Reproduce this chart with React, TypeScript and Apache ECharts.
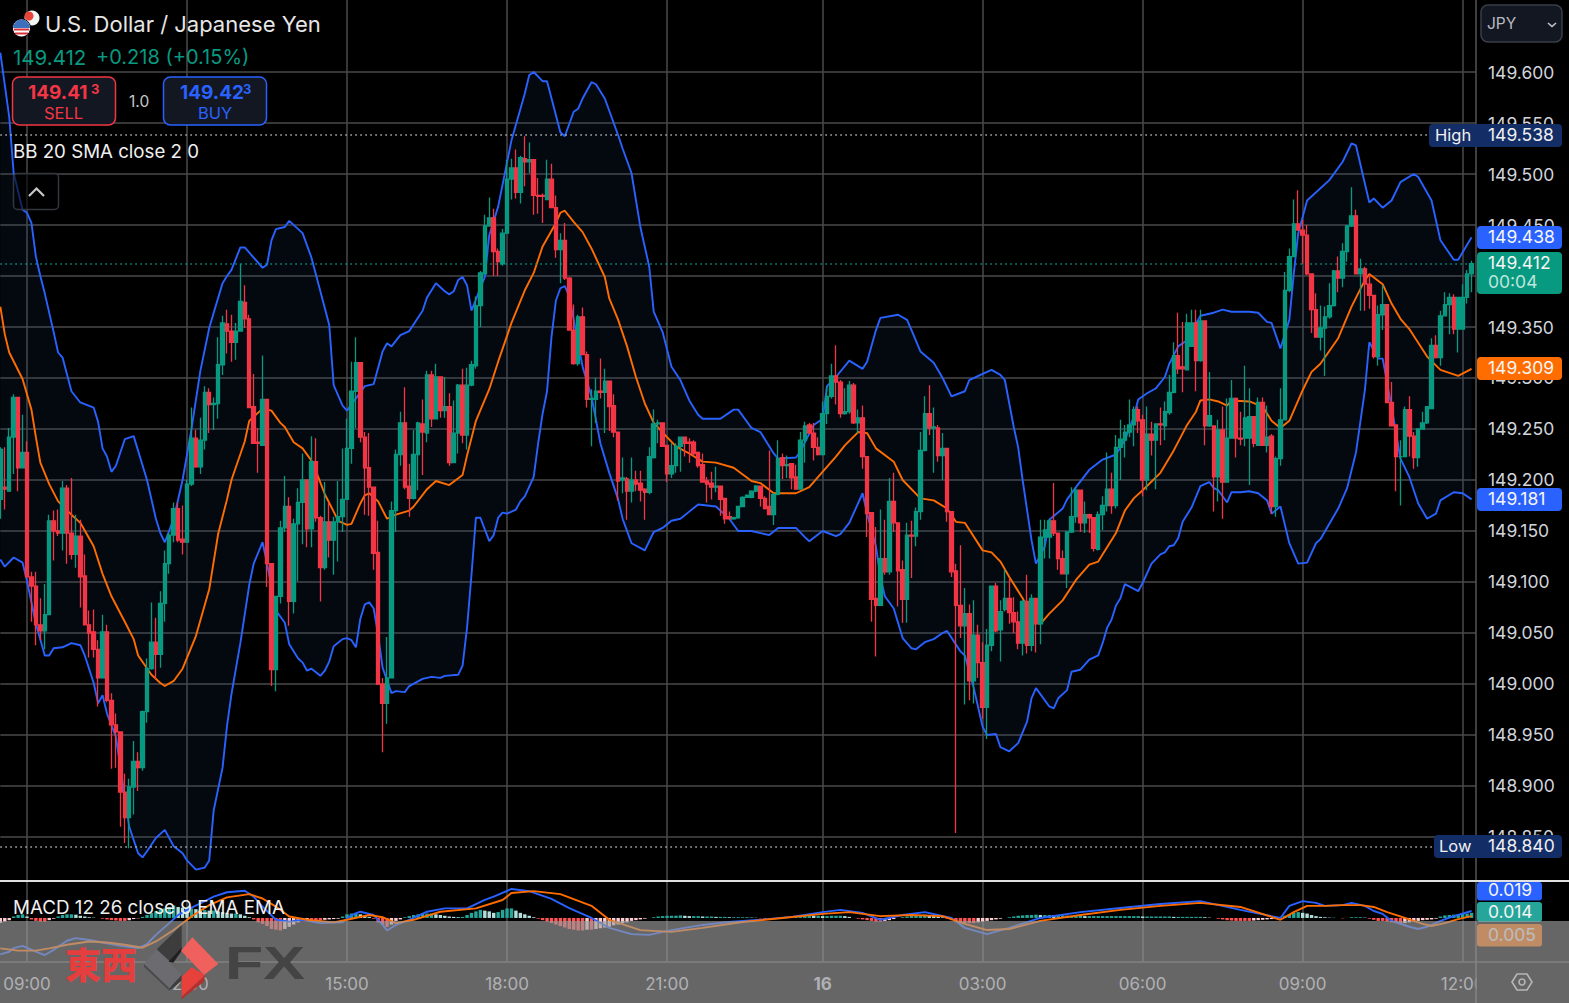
import React, { useEffect, useRef } from "react";
import * as echarts from "echarts";

// All prices below are thousandths above 149.000 (412 = 149.412).
const FONT = "Inter, Roboto, 'Noto Sans', sans-serif";
const GREEN = "#089981";
const RED = "#f23645";
const BLUE = "#2962ff";
const ORANGE = "#ff6d00";
const GRID = "#4a4a4a";

const priceTicks = [148.85, 148.9, 148.95, 149.0, 149.05, 149.1, 149.15, 149.2, 149.25, 149.3, 149.35, 149.4, 149.45, 149.5, 149.55, 149.6];
const timeTickIndex = [6, 42, 78, 114, 150, 185, 221, 257, 293, 329];
const timeTickLabels = ["09:00", "12:00", "15:00", "18:00", "21:00", "16", "03:00", "06:00", "09:00", "12:00"];

// open, close, low, high
const candles: number[][] = [
[181,230,162,232],[193,191,171,232],[189,242,189,251],[242,281,206,284],[281,212,189,281],[212,227,212,264],[227,105,105,238],[105,96,61,110],[96,58,38,110],[58,52,43,84],
[52,68,34,98],[68,160,68,166],[160,150,121,170],[150,148,145,171],[148,192,131,199],[192,148,118,195],[148,127,122,202],[127,145,114,166],[145,105,75,161],[106,58,58,127],
[58,50,26,72],[51,34,26,73],[34,6,-22,43],[6,51,6,68],[51,-16,-18,58],[-16,-40,-83,-9],[-40,-47,-82,-29],[-47,-106,-140,-47],[-106,-131,-156,-88],[-131,-101,-161,-93],
[-101,-76,-128,-56],[-76,-82,-105,-67],[-82,-27,-85,-26],[-27,15,-38,25],[15,41,14,80],[41,29,5,65],[29,79,16,91],[79,118,61,131],[118,146,108,148],[146,172,139,178],
[172,141,139,178],[142,139,127,175],[139,196,139,200],[196,241,194,271],[241,213,212,249],[213,239,206,261],[239,286,230,292],[286,274,246,290],[274,275,249,281],[275,313,260,340],
[313,354,303,361],[353,346,324,367],[346,335,316,362],[335,346,318,354],[346,375,346,412],[374,358,349,391],[358,271,271,362],[272,236,236,304],[237,236,207,251],[234,279,234,322],
[279,118,95,279],[118,14,-2,118],[14,86,-7,86],[86,153,79,160],[153,174,149,204],[174,81,57,183],[81,157,69,162],[157,178,101,192],[178,200,137,226],[200,152,134,200],
[152,218,134,243],[218,163,159,241],[163,114,81,165],[114,159,112,198],[159,141,124,178],[141,159,107,164],[159,164,120,199],[164,181,149,231],[181,231,181,260],[231,287,216,316],
[287,315,251,340],[315,242,237,315],[242,212,166,247],[212,193,165,246],[193,128,112,193],[129,0,-1,160],[0,-19,-67,6],[-19,6,-39,46],[6,170,6,179],[170,225,149,230],
[225,256,214,267],[256,193,191,291],[194,182,164,216],[182,225,181,249],[225,256,190,257],[255,247,205,279],[246,303,237,307],[303,260,252,307],[260,301,260,314],[301,268,261,301],
[268,272,261,301],[272,217,214,285],[217,246,217,278],[246,293,226,294],[293,244,236,309],[244,293,230,310],[293,313,292,317],[312,371,309,380],[371,403,350,405],[402,449,402,460],
[449,457,449,477],[457,424,400,466],[424,414,400,427],[412,442,410,446],[442,495,442,514],[495,506,475,515],[506,482,476,524],[482,516,471,518],[515,512,488,537],[512,514,501,531],
[514,479,460,514],[479,478,461,496],[479,478,452,481],[475,495,475,514],[495,467,467,510],[467,426,418,479],[426,435,393,442],[435,398,396,452],[398,347,347,399],[347,314,313,372],
[314,360,312,362],[360,323,323,369],[323,279,271,326],[279,280,233,289],[279,287,256,300],[287,286,280,319],[286,297,246,309],[297,272,248,297],[273,247,242,284],[247,199,180,247],
[200,202,187,222],[201,189,161,203],[189,200,178,222],[200,196,189,209],[197,190,179,209],[191,188,161,192],[188,223,186,232],[222,255,221,269],[255,256,236,259],[256,233,233,256],
[234,206,198,234],[206,214,202,236],[214,233,207,236],[233,242,208,242],[242,236,223,242],[237,236,217,241],[237,226,223,239],[227,214,212,228],[215,198,198,226],[199,196,178,203],
[197,193,181,208],[193,194,188,213],[194,181,165,194],[182,162,157,182],[164,162,161,169],[162,163,161,164],[163,174,162,174],[174,183,174,184],[183,185,183,186],[183,189,182,190],
[189,194,188,195],[194,182,174,194],[182,172,171,184],[174,166,166,229],[166,186,156,187],[186,221,185,239],[222,214,201,226],[214,215,202,224],[216,202,191,216],[203,191,191,215],
[191,239,191,247],[239,253,217,257],[254,246,245,256],[246,232,219,256],[232,225,224,242],[225,265,224,277],[265,282,255,292],[282,302,280,314],[302,296,274,332],[296,265,261,298],
[265,267,264,290],[267,293,265,297],[293,256,255,295],[256,261,246,269],[261,223,211,273],[223,167,144,223],[168,83,61,168],[84,77,27,154],[77,123,77,171],[123,110,107,161],
[110,179,107,202],[179,158,149,207],[158,111,76,158],[112,83,60,121],[83,146,60,158],[146,145,104,160],[145,169,135,173],[169,229,161,247],[229,265,228,282],[265,251,244,293],
[251,252,207,271],[251,224,218,254],[224,231,200,246],[231,169,159,231],[169,110,105,169],[111,77,-146,118],[77,57,45,136],[57,69,-20,94],[69,3,-16,78],[3,48,-19,82],
[48,21,6,58],[21,-23,-34,41],[-23,38,-54,54],[38,96,32,96],[96,52,51,99],[53,71,22,82],[73,84,71,112],[84,70,59,103],[70,61,50,85],[61,40,34,71],
[40,81,28,82],[81,38,30,107],[38,84,32,88],[84,59,31,84],[59,144,39,161],[144,151,123,161],[144,160,123,162],[160,148,145,197],[148,123,112,148],[123,108,108,131],
[108,149,94,149],[149,164,148,193],[164,190,158,193],[190,158,149,190],[158,166,148,179],[166,163,148,167],[163,133,130,163],[132,166,131,169],[166,175,151,184],[175,191,169,227],
[191,175,167,207],[175,232,172,244],[232,240,200,259],[239,247,222,254],[247,254,242,279],[254,269,233,272],[269,258,246,272],[259,200,184,264],[200,245,190,272],[245,239,224,257],
[239,255,191,255],[255,254,234,271],[253,267,239,277],[266,286,264,303],[286,322,285,335],[322,309,304,364],[311,309,286,355],[308,354,308,363],[331,354,331,367],[354,317,287,367],
[317,356,316,367],[356,253,234,356],[253,263,252,306],[253,203,169,253],[203,249,179,259],[249,198,162,272],[198,241,198,280],[241,280,241,298],[280,241,222,281],[241,240,234,267],
[241,261,233,312],[241,262,195,290],[262,236,232,262],[234,276,234,281],[276,234,234,281],[234,242,227,273],[243,174,167,245],[174,221,164,223],[221,259,214,290],[259,386,259,404],
[386,419,384,427],[419,451,419,475],[451,445,445,484],[445,440,412,455],[440,402,401,450],[402,367,344,402],[367,340,340,383],[340,349,327,371],[349,360,302,370],[360,371,358,393],
[371,405,370,406],[405,398,384,419],[398,424,389,432],[424,449,414,450],[449,459,448,487],[459,402,402,465],[402,407,366,417],[407,392,366,409],[392,381,368,402],[381,321,319,381],
[321,362,312,371],[362,372,347,391],[372,276,276,372],[276,253,253,296],[254,223,189,254],[223,223,175,239],[223,269,223,272],[269,243,223,282],[243,222,211,247],[222,250,213,250],
[250,256,250,267],[256,272,255,272],[270,332,270,339],[332,320,319,342],[320,361,312,366],[361,372,361,384],[372,379,343,383],[379,348,343,382],[348,379,325,379],[348,379,348,392],
[379,402,373,406],[402,412,384,415],
];

// [bar index, value]
const upperBand = [[0,619],[2,556],[3,501],[5,465],[6,462],[7,452],[8,419],[9,400],[10,383],[12,345],[13,325],[14,320],[16,287],[18,276],[21,271],[22,257],[23,231],[24,223],[25,208],[26,214],[28,240],[30,243],[33,200],[35,162],[36,148],[37,139],[39,162],[41,200],[43,250],[45,307],[47,349],[48,364],[50,393],[51,400],[52,406],[54,428],[55,428],[58,413],[59,408],[60,411],[61,435],[62,446],[64,448],[65,454],[68,442],[70,418],[72,385],[74,352],[75,293],[77,273],[78,268],[82,292],[84,294],[86,326],[87,334],[88,331],[90,342],[92,346],[95,366],[96,379],[98,393],[100,385],[101,382],[102,385],[103,396],[104,399],[105,391],[106,366],[109,399],[110,440],[112,468],[115,533],[118,579],[119,597],[120,600],[122,591],[123,591],[126,541],[127,537],[129,561],[130,564],[131,574],[133,590],[134,588],[136,574],[139,538],[140,525],[142,501],[144,448],[146,409],[147,365],[149,345],[151,311],[153,298],[155,278],[157,264],[158,260],[162,260],[165,269],[166,269],[169,251],[171,247],[174,226],[175,221],[179,222],[180,228],[183,254],[185,260],[186,292],[188,301],[191,317],[194,309],[195,316],[197,347],[198,359],[202,362],[204,357],[205,347],[207,326],[210,315],[212,300],[214,282],[217,287],[218,298],[221,304],[223,308],[225,303],[226,298],[228,252],[229,232],[230,200],[232,141],[233,118],[235,135],[236,161],[239,172],[240,181],[242,193],[245,210],[248,220],[251,225],[253,239],[255,262],[256,279],[258,285],[260,290],[262,301],[263,314],[265,331],[267,337],[270,361],[273,364],[275,367],[277,365],[281,365],[283,364],[285,355],[286,354],[288,329],[290,357],[291,402],[292,442],[294,474],[299,494],[302,512],[304,530],[305,528],[308,472],[309,476],[311,467],[313,474],[315,492],[318,500],[319,497],[322,474],[324,435],[327,416],[328,416],[331,438]];
const lowerBand = [[0,122],[1,115],[3,124],[5,119],[6,101],[8,59],[10,28],[11,28],[12,35],[14,36],[16,40],[18,38],[19,28],[21,1],[22,-19],[23,-11],[24,-29],[26,-52],[29,-140],[31,-166],[32,-170],[33,-164],[35,-151],[37,-143],[39,-159],[41,-166],[42,-173],[44,-182],[46,-180],[47,-173],[48,-124],[50,-82],[51,-41],[52,-10],[54,40],[56,97],[57,118],[59,139],[60,118],[62,72],[64,60],[65,39],[67,25],[68,21],[69,13],[70,15],[72,8],[73,13],[74,22],[75,37],[77,44],[78,45],[79,43],[80,36],[81,64],[82,78],[83,80],[84,74],[85,48],[86,16],[88,-9],[89,-7],[91,-8],[92,-2],[95,5],[97,7],[99,6],[100,8],[103,9],[104,18],[105,55],[106,107],[107,163],[108,163],[110,140],[111,146],[112,163],[113,168],[114,167],[116,171],[117,179],[118,184],[120,203],[121,236],[122,265],[123,287],[124,340],[125,376],[126,388],[127,390],[128,380],[131,311],[133,282],[135,236],[137,207],[139,181],[140,162],[142,138],[145,131],[147,149],[149,153],[151,160],[153,162],[155,169],[157,176],[161,174],[164,162],[166,150],[169,150],[173,146],[175,153],[179,153],[181,144],[182,140],[185,150],[188,145],[189,147],[191,158],[194,187],[195,167],[197,135],[198,105],[199,86],[201,74],[203,45],[205,35],[206,34],[208,41],[210,44],[212,50],[213,52],[216,32],[217,28],[219,-4],[221,-42],[222,-50],[224,-49],[225,-62],[227,-66],[229,-58],[231,-37],[232,-14],[233,-4],[236,-22],[237,-24],[238,-14],[240,-6],[241,12],[243,14],[245,24],[247,28],[248,40],[249,55],[250,63],[251,77],[252,84],[253,98],[256,91],[257,99],[259,118],[261,127],[262,129],[263,135],[264,136],[265,143],[266,159],[268,173],[270,194],[272,198],[273,192],[274,190],[276,178],[277,188],[279,188],[281,189],[283,187],[285,180],[286,167],[288,174],[290,138],[292,118],[294,119],[296,138],[297,142],[301,172],[303,192],[305,227],[307,288],[308,335],[310,319],[311,319],[313,272],[315,221],[317,203],[319,177],[321,162],[323,167],[324,180],[327,188],[329,187],[331,181]];
const basisBand = [[0,370],[1,343],[2,325],[5,299],[7,269],[8,242],[9,217],[11,196],[13,179],[16,166],[18,158],[21,135],[23,108],[25,86],[28,61],[30,44],[31,28],[34,9],[36,1],[37,-2],[39,3],[41,15],[44,47],[47,93],[49,147],[51,181],[52,200],[55,238],[56,258],[59,270],[61,268],[63,256],[64,252],[66,237],[68,231],[70,219],[71,209],[73,186],[75,169],[76,160],[78,156],[79,157],[81,177],[82,185],[83,187],[85,179],[87,162],[89,166],[92,170],[93,174],[96,191],[98,199],[101,195],[104,205],[105,224],[107,258],[110,289],[112,316],[115,354],[118,386],[120,403],[122,429],[125,452],[126,462],[127,464],[129,453],[131,443],[133,427],[136,399],[137,378],[139,357],[141,331],[143,301],[145,275],[147,256],[150,242],[152,233],[155,226],[158,218],[161,217],[165,212],[169,199],[171,197],[174,187],[179,187],[182,193],[184,203],[188,223],[190,234],[193,247],[195,246],[197,231],[201,218],[203,200],[207,182],[210,180],[213,172],[215,159],[217,158],[221,131],[223,129],[225,120],[227,105],[230,84],[233,60],[234,59],[236,69],[239,82],[242,102],[245,117],[247,120],[251,148],[253,170],[255,182],[257,190],[261,207],[264,229],[267,254],[269,267],[270,278],[272,279],[274,277],[276,273],[277,278],[281,277],[284,272],[286,258],[288,251],[290,258],[293,288],[295,306],[297,314],[301,339],[304,370],[307,396],[308,402],[311,392],[313,373],[315,358],[317,348],[321,321],[324,308],[328,302],[331,309]];

// MACD pane, thousandths
const macdLine = [[0,-99],[2,-92],[3,-82],[5,-76],[8,-92],[10,-101],[12,-87],[15,-62],[17,-55],[20,-60],[23,-67],[27,-76],[31,-82],[33,-71],[35,-46],[38,-14],[40,8],[42,22],[45,40],[48,58],[51,70],[55,74],[57,58],[59,31],[62,-5],[65,-10],[68,-5],[72,-14],[77,-12],[79,8],[81,17],[84,8],[86,-19],[87,-34],[89,-19],[92,-5],[96,17],[100,26],[105,26],[109,49],[111,58],[115,79],[119,73],[124,52],[128,27],[133,0],[137,-27],[142,-44],[146,-46],[151,-33],[158,-19],[164,-11],[171,-5],[178,3],[185,16],[189,22],[194,14],[198,-5],[203,8],[208,16],[214,0],[217,-27],[222,-44],[227,-27],[234,0],[243,16],[252,27],[261,38],[270,46],[279,22],[288,0],[290,33],[293,46],[296,41],[298,33],[302,35],[304,41],[307,33],[309,19],[311,11],[313,-8],[317,-24],[319,-30],[321,-24],[324,-8],[327,5],[331,19]];
const signalLine = [[0,-83],[4,-89],[8,-89],[11,-83],[15,-73],[20,-64],[24,-67],[28,-73],[32,-81],[35,-64],[39,-33],[43,4],[47,35],[51,56],[56,65],[59,53],[62,31],[65,4],[69,-5],[75,-12],[78,-5],[83,8],[86,2],[89,-14],[93,-5],[99,17],[107,26],[113,49],[115,68],[120,73],[126,65],[133,33],[137,-5],[144,-33],[151,-38],[158,-27],[167,-11],[176,0],[185,11],[191,16],[198,5],[205,8],[212,5],[217,-16],[222,-33],[227,-30],[234,-8],[243,8],[252,22],[261,33],[270,41],[279,30],[288,-5],[291,16],[294,33],[298,33],[302,35],[306,35],[309,30],[312,16],[316,0],[320,-16],[322,-22],[325,-14],[328,-3],[331,5]];
const macdHist = [
-14,-10,-6,4,8,10,4,-4,-8,-10,-10,-6,-2,4,8,10,10,9,6,4,
2,1,0,-2,-4,-6,-7,-8,-8,-6,-3,-1,3,8,14,18,22,26,30,34,
30,28,26,26,24,22,22,20,20,18,16,14,12,12,10,6,2,-4,-12,-16,
-22,-30,-32,-34,-30,-24,-18,-12,-8,-6,-6,-6,-6,-5,-4,-3,-2,4,10,12,
14,10,6,3,-2,-12,-18,-24,-18,-8,-4,2,5,8,10,12,12,12,10,8,
6,4,3,2,3,8,14,18,22,20,18,14,16,22,26,26,20,14,10,6,
2,-2,-6,-10,-14,-18,-22,-26,-30,-32,-34,-34,-32,-32,-30,-28,-26,-24,-20,-18,
-14,-12,-8,-6,-4,-2,0,2,4,5,6,6,6,7,6,5,5,5,4,4,
4,3,3,3,2,2,2,2,2,1,1,-1,-2,-2,-2,-1,1,3,4,5,
6,6,7,6,6,5,5,6,6,6,5,3,0,-2,-4,-6,-8,-10,-10,-8,
-6,-3,0,2,4,6,8,8,9,8,6,4,2,-2,-6,-10,-12,-14,-14,-14,
-12,-10,-8,-6,-4,-2,0,2,4,6,7,8,8,9,8,8,8,7,7,7,
6,6,6,6,5,5,5,5,5,5,5,5,5,5,5,5,5,4,4,4,
4,4,4,4,3,3,3,3,3,3,3,2,1,0,-2,-4,-6,-7,-8,-8,
-8,-8,-7,-6,-5,-4,-3,-2,2,6,10,14,16,14,12,8,5,3,2,1,
1,0,-1,0,2,2,2,1,-2,-5,-8,-8,-10,-12,-14,-16,-14,-12,-10,-8,
-6,-5,-4,-2,4,7,8,9,10,12,12,14,
];

const PRICE = (t: number) => 149 + t / 1000;
const MAC = (t: number) => t / 1000;

const label = (x: number, y: number, text: string, fill: string, font: string, z = 45, extra: any = {}) => ({
  type: "text", x, y, z, silent: true,
  style: { text, fill, font: `${font} ${FONT}`, textAlign: "left", textVerticalAlign: "middle", align: "left", verticalAlign: "middle", ...extra },
});
const box = (x: number, y: number, width: number, height: number, fill: string, stroke?: string, r = 4, z = 44) => ({
  type: "rect", z, silent: true, shape: { x, y, width, height, r },
  style: { fill, stroke: stroke ?? "none", lineWidth: stroke ? 1.5 : 0 },
});
const poly = (pts: number[][], fill: string, z = 60) => ({ type: "polygon", z, silent: true, shape: { points: pts }, style: { fill } });
const wm = (zx: number, zy: number) => [zx / 3, 860 + zy / 3];

function buildOption() {
  const n = candles.length + 1;
  const categories = Array.from({ length: n }, (_, i) => {
    const k = timeTickIndex.indexOf(i);
    return k >= 0 ? timeTickLabels[k] : String(i);
  });
  const isTick = (i: number) => timeTickIndex.includes(i);
  const bandPoly = (params: any, api: any) => {
    const pts = upperBand.concat(lowerBand.slice().reverse()).map(([i, t]) => api.coord([i, PRICE(t)]));
    return { type: "polygon", shape: { points: pts }, style: { fill: "rgba(30,70,120,0.13)" } };
  };
  const xBase = {
    type: "category", data: categories, boundaryGap: false,
    axisLine: { show: false }, axisTick: { show: false },
    splitLine: { show: true, interval: (i: number) => isTick(i), lineStyle: { color: GRID, width: 1.5 } },
  };
  const thin = (data: number[][], color: string, gridIdx: number, conv: (t: number) => number, width = 1.9) => ({
    type: "line", xAxisIndex: gridIdx, yAxisIndex: gridIdx, data: data.map(([i, t]) => [i, conv(t)]),
    showSymbol: false, symbol: "none", lineStyle: { color, width }, z: 3, silent: true,
  });
  const dotted = (v: number, color: string) => ({
    yAxis: v, lineStyle: { color, type: [1.5, 3.5], width: 1.5 }, label: { show: false }, symbol: "none",
  });

  const graphic: any[] = [
    // pane frame
    { type: "line", z: 42, silent: true, shape: { x1: 1476, y1: 0, x2: 1476, y2: 1003 }, style: { stroke: "#555", lineWidth: 1.5 } },
    { type: "line", z: 42, silent: true, shape: { x1: 0, y1: 881, x2: 1569, y2: 881 }, style: { stroke: "#e0e0e0", lineWidth: 2 } },
    { type: "line", z: 42, silent: true, shape: { x1: 0, y1: 962, x2: 1569, y2: 962 }, style: { stroke: "#4c4c4c", lineWidth: 1.5 } },
    // hide the part of the last time label past the pane
    { type: "rect", z: 41, silent: true, shape: { x: 1477, y: 963, width: 92, height: 40 }, style: { fill: "#000" } },

    // header
    { type: "circle", z: 44, silent: true, shape: { cx: 32, cy: 18, r: 7.5 }, style: { fill: "#f5f5f5" } },
    { type: "circle", z: 44, silent: true, shape: { cx: 29, cy: 16, r: 4.5 }, style: { fill: "#e8443a" } },
    { type: "circle", z: 44, silent: true, shape: { cx: 21.5, cy: 28, r: 9 }, style: { fill: "#ffffff", stroke: "#000", lineWidth: 1 } },
    box(14, 28.5, 15, 2, "#d8323a", undefined, 0),
    box(15, 32.5, 13, 2, "#d8323a", undefined, 0),
    { type: "sector", z: 44, silent: true, shape: { cx: 21.5, cy: 28, r: 8.5, r0: 0, startAngle: Math.PI, endAngle: 2 * Math.PI }, style: { fill: "#3d6fbf" } },
    label(45, 24, "U.S. Dollar / Japanese Yen", "#e6e6e6", "22px"),
    label(13, 57, "149.412", GREEN, "20.5px"),
    label(96, 57, "+0.218 (+0.15%)", GREEN, "20px"),

    box(12.5, 77, 103, 48, "#131722", RED, 7),
    label(28, 92, "149.41", RED, "bold 19px"),
    label(91, 89, "3", RED, "bold 13px"),
    label(44, 113, "SELL", RED, "16.5px"),
    label(129, 101, "1.0", "#c8c8c8", "15.5px"),
    box(163.5, 77, 103, 48, "#131722", BLUE, 7),
    label(180, 92, "149.42", BLUE, "bold 19px"),
    label(243, 89, "3", BLUE, "bold 13px"),
    label(198, 113, "BUY", BLUE, "16.5px"),

    label(13, 151, "BB 20 SMA close 2 0", "#f0f0f0", "18.7px"),
    box(13.5, 173.5, 45, 36, "rgba(0,0,0,0.6)", "#33363f", 4),
    { type: "polyline", z: 45, silent: true, shape: { points: [[29, 196], [36.5, 188.5], [44, 196]] }, style: { stroke: "#c8c8c8", lineWidth: 2.2, fill: "none" } },
    label(13, 907, "MACD 12 26 close 9 EMA EMA", "#f0f0f0", "18.8px"),

    // currency selector
    box(1481, 5, 81, 37, "#131722", "#3a3e48", 7),
    label(1487, 23, "JPY", "#b8bbc4", "15.5px"),
    { type: "polyline", z: 45, silent: true, shape: { points: [[1548, 23], [1552, 26.5], [1556, 23]] }, style: { stroke: "#c8c8c8", lineWidth: 1.6, fill: "none" } },

    // price tags
    box(1429, 124, 133, 23, "#132d66", undefined, 4),
    label(1435, 135, "High", "#f0f0f0", "16.5px"),
    label(1488, 134.5, "149.538", "#f0f0f0", "17.5px"),
    box(1477, 226, 85, 23, "#2962ff"),
    label(1488, 236.5, "149.438", "#f5f5f5", "17.5px"),
    box(1477, 252, 85, 42, GREEN),
    label(1488, 262.5, "149.412", "#f5f5f5", "17.5px"),
    label(1488, 281.5, "00:04", "#bfe6dd", "17.5px"),
    box(1477, 357, 85, 23, ORANGE),
    label(1488, 367.5, "149.309", "#f5f5f5", "17.5px"),
    box(1477, 488, 85, 23, "#2962ff"),
    label(1488, 498.5, "149.181", "#f5f5f5", "17.5px"),
    box(1434, 835, 128, 23, "#132d66", undefined, 4),
    label(1439, 846, "Low", "#f0f0f0", "16.5px"),
    label(1488, 845.5, "148.840", "#f0f0f0", "17.5px"),
    box(1477, 882, 65, 18.5, "#2962ff", undefined, 3),
    label(1488, 889, "0.019", "#f5f5f5", "17.5px"),
    box(1477, 902, 65, 20, "#26a69a", undefined, 3),
    label(1488, 911.5, "0.014", "#f5f5f5", "17.5px"),
    box(1477, 924, 65, 22.5, ORANGE, undefined, 3),
    label(1488, 934.5, "0.005", "#f5f5f5", "17.5px"),

    // settings hexagon
    { type: "polygon", z: 45, silent: true, shape: { points: [[1512, 982], [1517, 974], [1527, 974], [1532, 982], [1527, 990], [1517, 990]] }, style: { fill: "none", stroke: "#e6e6e6", lineWidth: 1.6 } },
    { type: "circle", z: 45, silent: true, shape: { cx: 1522, cy: 982, r: 3 }, style: { fill: "none", stroke: "#e6e6e6", lineWidth: 1.6 } },

    // grey veil of the watermark
    { type: "rect", z: 50, silent: true, shape: { x: 0, y: 921, width: 1569, height: 82 }, style: { fill: "rgba(157,157,157,0.65)" } },

    // watermark
    label(65, 963, "東西", "#e53e3e", "900 36px", 60, { font: "900 36px 'Noto Sans CJK TC'" }),
    poly([wm(470, 268), wm(545, 195), wm(545, 262), wm(508, 302)], "#3d3d3d"),
    poly([wm(505, 305), wm(545, 262), wm(545, 272), wm(520, 308)], "#1f1f1f"),
    poly([wm(432, 312), wm(470, 268), wm(545, 345), wm(508, 385)], "#6b6b70"),
    poly([wm(432, 312), wm(508, 385), wm(508, 392), wm(432, 320)], "#4a4a4d"),
    poly([wm(508, 385), wm(545, 345), wm(545, 362), wm(508, 392)], "#3d3d3d"),
    poly([wm(543, 272), wm(577, 232), wm(655, 312), wm(612, 345)], "#f0605c"),
    poly([wm(545, 350), wm(575, 322), wm(615, 345), wm(545, 410)], "#e8413c"),
    poly([wm(545, 410), wm(615, 345), wm(612, 365), wm(545, 417)], "#b5302c"),
    { ...label(225, 963, "FX", "#444444", "900 46px", 60, { font: "900 46px 'Liberation Sans'" }), scaleX: 1.36 },
  ];

  return {
    animation: false,
    backgroundColor: "#000000",
    graphic,
    grid: [
      { left: 0.33, right: 93, top: 0, height: 881, containLabel: false },
      { left: 0.33, right: 93, top: 882, height: 80, containLabel: false },
    ],
    xAxis: [
      { ...xBase, gridIndex: 0, axisLabel: { show: false } },
      {
        ...xBase, gridIndex: 1,
        axisLabel: {
          show: true, interval: (i: number) => isTick(i), margin: 13,
          color: "#d1d4dc", fontSize: 17, fontFamily: FONT,
          formatter: (v: string) => (v === "16" ? "{b|16}" : v),
          rich: { b: { color: "#d1d4dc", fontSize: 17, fontFamily: FONT, fontWeight: "bold" } },
          showMinLabel: true, showMaxLabel: true,
        },
      },
    ],
    yAxis: [
      {
        type: "value", gridIndex: 0, position: "right", scale: true,
        min: 148.80686, max: 149.67059,
        axisLine: { show: false },
        axisTick: { show: false, customValues: priceTicks },
        splitLine: { show: true, lineStyle: { color: GRID, width: 1.5 } },
        axisLabel: {
          show: true, customValues: priceTicks, margin: 12, align: "left", color: "#d1d4dc",
          fontSize: 17.5, fontFamily: FONT, formatter: (v: number) => v.toFixed(3),
        },
      },
      { type: "value", gridIndex: 1, min: -0.12, max: 0.098, show: false, splitLine: { show: false } },
    ],
    series: [
      {
        type: "custom", xAxisIndex: 0, yAxisIndex: 0, data: [[0, PRICE(0)]], renderItem: bandPoly, z: 1, clip: true, silent: true,
      },
      thin(upperBand, BLUE, 0, PRICE),
      thin(lowerBand, BLUE, 0, PRICE),
      thin(basisBand, ORANGE, 0, PRICE),
      {
        type: "candlestick", xAxisIndex: 0, yAxisIndex: 0, z: 5, silent: true, barWidth: 4,
        clip: true,
        data: candles.map(([o, c, l, h]) => [PRICE(o), PRICE(c), PRICE(l), PRICE(h)]),
        itemStyle: { color: GREEN, color0: RED, borderColor: GREEN, borderColor0: RED, borderWidth: 1.3 },
        markLine: {
          silent: true, symbol: "none", animation: false, z: 4, precision: 3,
          data: [dotted(149.538, "#b8b8b8"), dotted(148.84, "#b8b8b8"), dotted(149.412, GREEN)],
        },
      },
      {
        type: "bar", xAxisIndex: 1, yAxisIndex: 1, z: 2, silent: true, barWidth: 3.4,
        data: macdHist.map((t, i) => ({
          value: MAC(t),
          itemStyle: {
            color: t >= 0
              ? (i > 0 && t >= macdHist[i - 1] ? "#26a69a" : "#b2dfdb")
              : (i > 0 && t <= macdHist[i - 1] ? "#ff5252" : "#ffcdd2"),
          },
        })),
      },
      thin(macdLine, BLUE, 1, MAC),
      thin(signalLine, ORANGE, 1, MAC),
    ],
  };
}

export default function App() {
  const ref = useRef<HTMLDivElement>(null);
  useEffect(() => {
    document.body.style.margin = "0";
    document.body.style.background = "#000";
    const chart = echarts.init(ref.current!, undefined, { renderer: "svg" });
    chart.setOption(buildOption() as any);
    return () => chart.dispose();
  }, []);
  return <div ref={ref} style={{ width: 1569, height: 1003 }} />;
}
